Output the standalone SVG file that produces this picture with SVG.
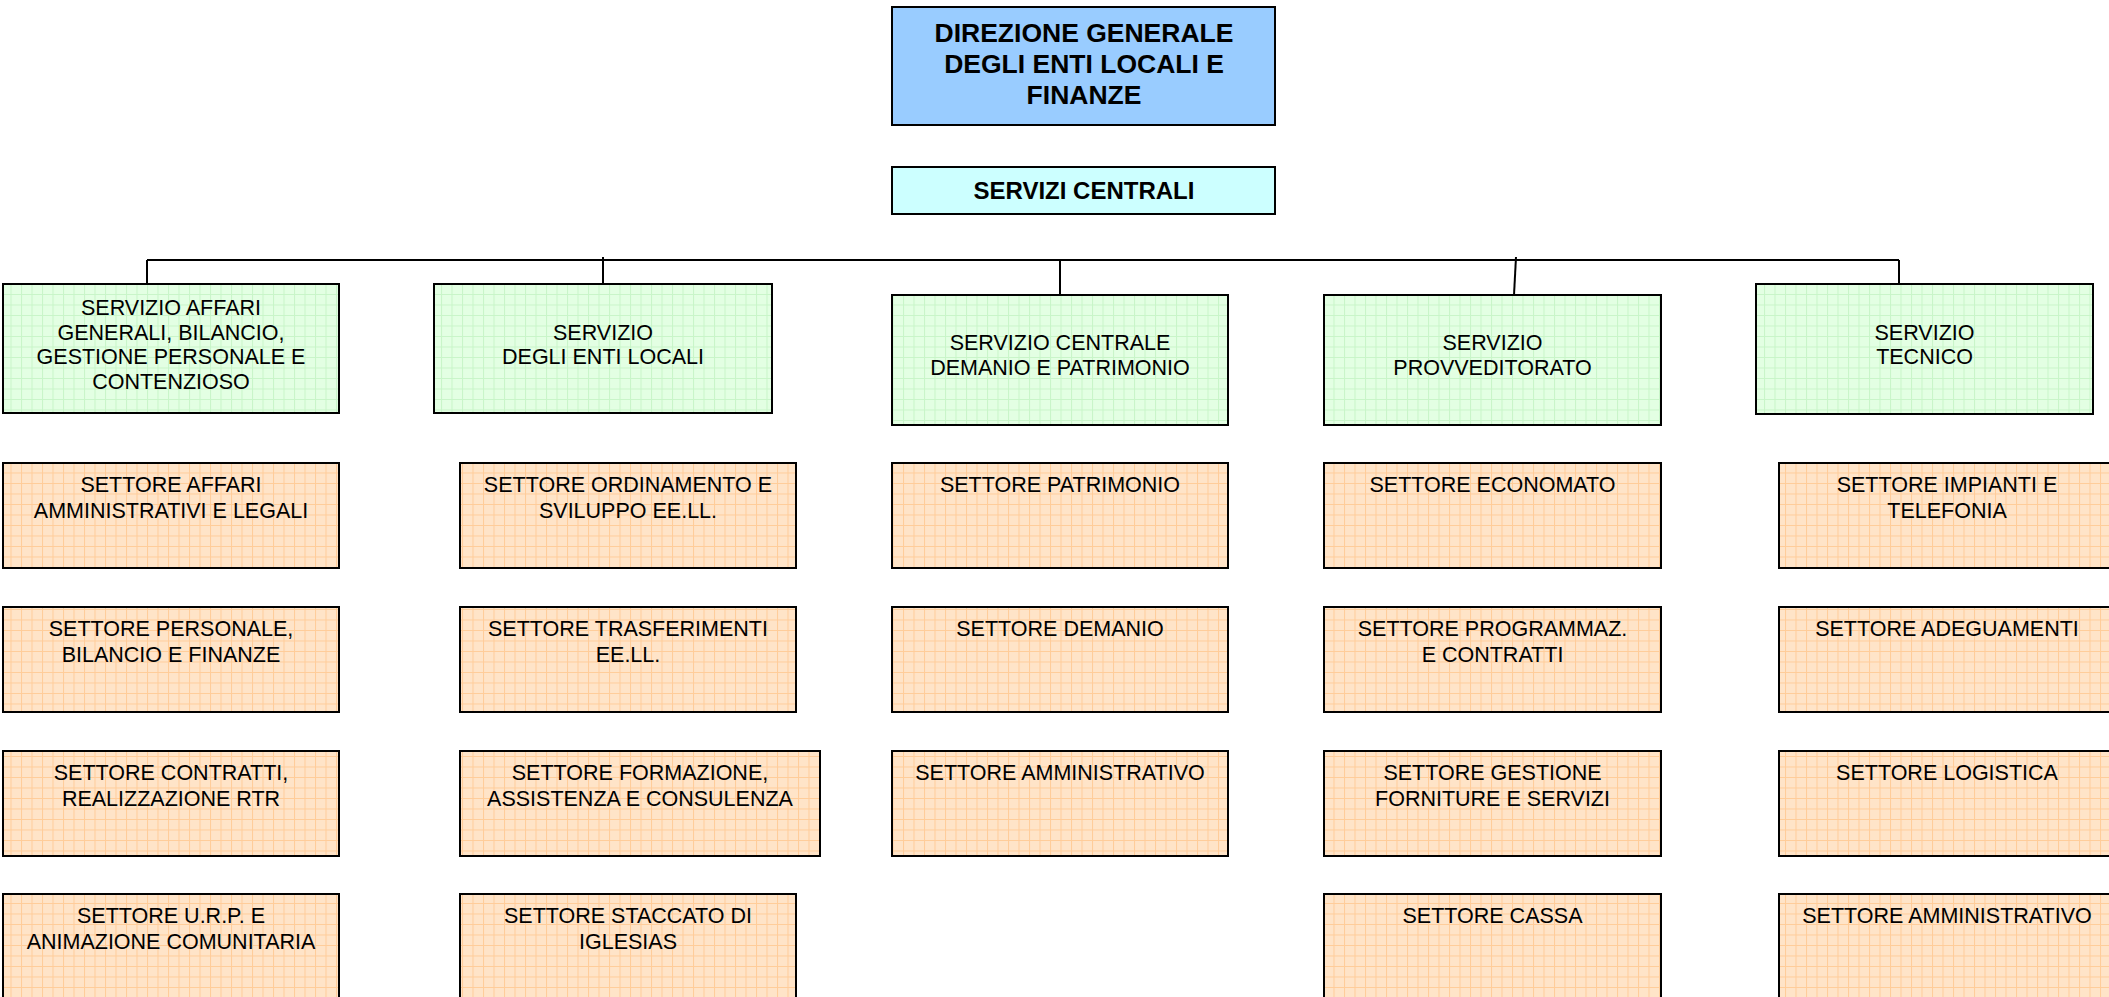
<svg xmlns="http://www.w3.org/2000/svg" width="2109" height="997" viewBox="0 0 2109 997">
<style>
.t{font-family:"Liberation Sans",Arial,sans-serif;font-size:21.5px;fill:#000;text-anchor:middle}
.b{font-family:"Liberation Sans",Arial,sans-serif;font-weight:bold;fill:#000;text-anchor:middle}
.box{stroke:#000;stroke-width:2}
.g{fill:url(#gp)}
.o{fill:url(#op)}
.conn{stroke:#000;stroke-width:2;fill:none}
</style>
<defs>
<pattern id="gp" patternUnits="userSpaceOnUse" width="10.5" height="10.5">
<rect width="10.5" height="10.5" fill="#e3ffe3"/>
<path d="M0 0.5H10.5M0.5 0V10.5" stroke="#c8f5c8" stroke-width="1"/>
</pattern>
<pattern id="op" patternUnits="userSpaceOnUse" width="10.5" height="10.5">
<rect width="10.5" height="10.5" fill="#ffe4c8"/>
<path d="M0 0.5H10.5M0.5 0V10.5" stroke="#ffcc99" stroke-width="1"/>
</pattern>
</defs>
<rect width="2109" height="997" fill="#fff"/>

<g id="connectors">
<path class="conn" d="M147 260H1899"/>
<path class="conn" d="M147 260V284"/>
<path class="conn" d="M603 257V284"/>
<path class="conn" d="M1060 260V295"/>
<path class="conn" d="M1516 257L1514 295"/>
<path class="conn" d="M1899 260V284"/>
</g>

<g id="direzione">
<rect class="box" x="892" y="7" width="383" height="118" fill="#99ccff" stroke-width="2.5"/>
<text class="b" font-size="26.5" x="1084" y="42">DIREZIONE GENERALE</text>
<text class="b" font-size="26.5" x="1084" y="73">DEGLI ENTI LOCALI E</text>
<text class="b" font-size="26.5" x="1084" y="104">FINANZE</text>
</g>

<g id="servizi-centrali">
<rect class="box" x="892" y="167" width="383" height="47" fill="#ccffff"/>
<text class="b" font-size="24" x="1084" y="199">SERVIZI CENTRALI</text>
</g>

<g id="s1">
<rect class="box g" x="3" y="284" width="336" height="129"/>
<text class="t" x="171" y="315">SERVIZIO AFFARI</text>
<text class="t" x="171" y="339.5">GENERALI, BILANCIO,</text>
<text class="t" x="171" y="364">GESTIONE PERSONALE E</text>
<text class="t" x="171" y="388.5">CONTENZIOSO</text>
</g>
<g id="s2">
<rect class="box g" x="434" y="284" width="338" height="129"/>
<text class="t" x="603" y="339.5">SERVIZIO</text>
<text class="t" x="603" y="364">DEGLI ENTI LOCALI</text>
</g>
<g id="s3">
<rect class="box g" x="892" y="295" width="336" height="130"/>
<text class="t" x="1060" y="350">SERVIZIO CENTRALE</text>
<text class="t" x="1060" y="374.5">DEMANIO E PATRIMONIO</text>
</g>
<g id="s4">
<rect class="box g" x="1324" y="295" width="337" height="130"/>
<text class="t" x="1492.5" y="350">SERVIZIO</text>
<text class="t" x="1492.5" y="374.5">PROVVEDITORATO</text>
</g>
<g id="s5">
<rect class="box g" x="1756" y="284" width="337" height="130"/>
<text class="t" x="1924.5" y="339.5">SERVIZIO</text>
<text class="t" x="1924.5" y="364">TECNICO</text>
</g>

<!-- column 1 -->
<g id="c1r1"><rect class="box o" x="3" y="463" width="336" height="105"/>
<text class="t" x="171" y="492">SETTORE AFFARI</text><text class="t" x="171" y="517.5">AMMINISTRATIVI E LEGALI</text></g>
<g id="c1r2"><rect class="box o" x="3" y="607" width="336" height="105"/>
<text class="t" x="171" y="636">SETTORE PERSONALE,</text><text class="t" x="171" y="661.5">BILANCIO E FINANZE</text></g>
<g id="c1r3"><rect class="box o" x="3" y="751" width="336" height="105"/>
<text class="t" x="171" y="780">SETTORE CONTRATTI,</text><text class="t" x="171" y="805.5">REALIZZAZIONE RTR</text></g>
<g id="c1r4"><rect class="box o" x="3" y="894" width="336" height="110"/>
<text class="t" x="171" y="923">SETTORE U.R.P. E</text><text class="t" x="171" y="948.5">ANIMAZIONE COMUNITARIA</text></g>

<!-- column 2 -->
<g id="c2r1"><rect class="box o" x="460" y="463" width="336" height="105"/>
<text class="t" x="628" y="492">SETTORE ORDINAMENTO E</text><text class="t" x="628" y="517.5">SVILUPPO EE.LL.</text></g>
<g id="c2r2"><rect class="box o" x="460" y="607" width="336" height="105"/>
<text class="t" x="628" y="636">SETTORE TRASFERIMENTI</text><text class="t" x="628" y="661.5">EE.LL.</text></g>
<g id="c2r3"><rect class="box o" x="460" y="751" width="360" height="105"/>
<text class="t" x="640" y="780">SETTORE FORMAZIONE,</text><text class="t" x="640" y="805.5">ASSISTENZA E CONSULENZA</text></g>
<g id="c2r4"><rect class="box o" x="460" y="894" width="336" height="110"/>
<text class="t" x="628" y="923">SETTORE STACCATO DI</text><text class="t" x="628" y="948.5">IGLESIAS</text></g>

<!-- column 3 -->
<g id="c3r1"><rect class="box o" x="892" y="463" width="336" height="105"/>
<text class="t" x="1060" y="492">SETTORE PATRIMONIO</text></g>
<g id="c3r2"><rect class="box o" x="892" y="607" width="336" height="105"/>
<text class="t" x="1060" y="636">SETTORE DEMANIO</text></g>
<g id="c3r3"><rect class="box o" x="892" y="751" width="336" height="105"/>
<text class="t" x="1060" y="780">SETTORE AMMINISTRATIVO</text></g>

<!-- column 4 -->
<g id="c4r1"><rect class="box o" x="1324" y="463" width="337" height="105"/>
<text class="t" x="1492.5" y="492">SETTORE ECONOMATO</text></g>
<g id="c4r2"><rect class="box o" x="1324" y="607" width="337" height="105"/>
<text class="t" x="1492.5" y="636">SETTORE PROGRAMMAZ.</text><text class="t" x="1492.5" y="661.5">E CONTRATTI</text></g>
<g id="c4r3"><rect class="box o" x="1324" y="751" width="337" height="105"/>
<text class="t" x="1492.5" y="780">SETTORE GESTIONE</text><text class="t" x="1492.5" y="805.5">FORNITURE E SERVIZI</text></g>
<g id="c4r4"><rect class="box o" x="1324" y="894" width="337" height="110"/>
<text class="t" x="1492.5" y="923">SETTORE CASSA</text></g>

<!-- column 5 -->
<g id="c5r1"><rect class="box o" x="1779" y="463" width="336" height="105"/>
<text class="t" x="1947" y="492">SETTORE IMPIANTI E</text><text class="t" x="1947" y="517.5">TELEFONIA</text></g>
<g id="c5r2"><rect class="box o" x="1779" y="607" width="336" height="105"/>
<text class="t" x="1947" y="636">SETTORE ADEGUAMENTI</text></g>
<g id="c5r3"><rect class="box o" x="1779" y="751" width="336" height="105"/>
<text class="t" x="1947" y="780">SETTORE LOGISTICA</text></g>
<g id="c5r4"><rect class="box o" x="1779" y="894" width="336" height="110"/>
<text class="t" x="1947" y="923">SETTORE AMMINISTRATIVO</text></g>
</svg>
